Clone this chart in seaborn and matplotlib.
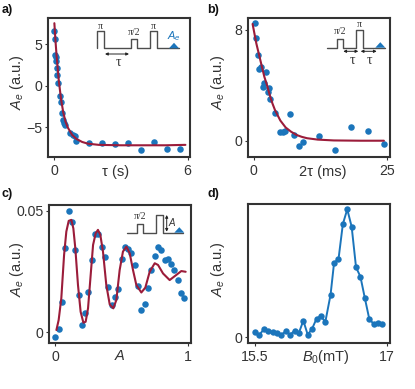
import matplotlib
matplotlib.use('Agg')
import matplotlib.pyplot as plt
import seaborn as sns

# panel a
a_x = [0, 0.02, 0.05, 0.08, 0.09, 0.10, 0.12, 0.18, 0.24, 0.30, 0.36, 0.40, 0.45, 0.50, 0.70, 0.82, 0.91, 0.97,
       1.56, 2.14, 2.73, 3.31, 3.90, 4.48, 5.07, 5.65]
a_y = [6.6, 5.56, 3.68, 3.48, 2.92, 2.08, 1.32, 0.32, -1.28, -1.96, -3.28, -4.12, -4.44, -4.72, -5.64, -5.92, -6.0, -6.68,
       -6.84, -6.92, -7.04, -6.92, -7.76, -6.72, -7.6, -7.6]
a_fit_x = [0, 0.05, 0.1, 0.2, 0.3, 0.4, 0.5, 0.6, 0.8, 1.0, 1.25, 1.5, 2, 3, 4, 5, 5.9]
a_fit_y = [7.5, 5.4, 3.6, 0.6, -1.6, -3.2, -4.3, -5.0, -5.9, -6.4, -6.75, -6.95, -7.1, -7.15, -7.15, -7.15, -7.1]

# panel b
b_x = [0.19, 0.5, 0.75, 1.06, 1.44, 2.31, 1.69, 2.0, 2.88, 2.63, 3.06, 4.0, 4.88, 5.44, 5.88, 6.75, 7.63, 8.56, 9.19,
       12.19, 15.25, 18.31, 21.38, 24.44]
b_y = [8.44, 7.4, 6.15, 5.16, 5.31, 4.93, 3.9, 4.13, 3.77, 3.48, 3.0, 2.02, 0.63, 0.65, 0.72, 1.95, 0.38, -0.38, -0.1,
       0.31, -0.65, 0.99, 0.7, -0.24]
b_fit_x = [-0.2, 0.5, 1, 1.5, 2, 2.5, 3, 3.5, 4, 5, 6, 7, 8, 9, 10, 12, 15, 20, 24.4]
b_fit_y = [8.4, 7.0, 6.2, 5.4, 4.6, 4.0, 3.3, 2.7, 2.2, 1.45, 0.95, 0.65, 0.42, 0.28, 0.18, 0.08, 0.02, 0, 0]

# panel c
c_x = [0, 0.025, 0.05, 0.075, 0.1, 0.125, 0.15, 0.175, 0.2, 0.225, 0.25, 0.275, 0.3, 0.325, 0.35, 0.375, 0.4, 0.425,
       0.45, 0.475, 0.5, 0.525, 0.55, 0.575, 0.6, 0.625, 0.65, 0.675, 0.7, 0.725, 0.75, 0.775, 0.8, 0.825, 0.85, 0.875,
       0.9, 0.925, 0.95, 0.975]
c_y = [-0.0018, 0.0015, 0.0123, 0.0345, 0.05, 0.0452, 0.034, 0.0153, 0.0032, 0.0081, 0.0168, 0.0299, 0.0404, 0.0404,
       0.0351, 0.0308, 0.0186, 0.0114, 0.0147, 0.0177, 0.0301, 0.0349, 0.0342, 0.0325, 0.0277, 0.0189, 0.0093, 0.0115,
       0.0181, 0.0258, 0.0314, 0.0352, 0.0337, 0.0296, 0.0301, 0.0281, 0.0255, 0.0215, 0.0163, 0.0142]
c_fit_x = [0.008, 0.025, 0.045, 0.066, 0.083, 0.101, 0.121, 0.136, 0.151, 0.171, 0.191, 0.212, 0.229, 0.247, 0.267,
           0.285, 0.305, 0.322, 0.34, 0.36, 0.385, 0.411, 0.438, 0.461, 0.486, 0.511, 0.537, 0.562, 0.587, 0.612,
           0.65, 0.68, 0.713, 0.751, 0.776, 0.814, 0.864, 0.914, 0.952, 0.985]
c_fit_y = [0.001, 0.0051, 0.014, 0.0318, 0.0414, 0.0458, 0.0462, 0.0427, 0.0345, 0.0195, 0.0085, 0.004, 0.0044, 0.0099,
           0.0236, 0.0359, 0.0407, 0.0421, 0.04, 0.0332, 0.0195, 0.0115, 0.0099, 0.0133, 0.0256, 0.0332, 0.0352, 0.0325,
           0.0256, 0.0195, 0.0164, 0.0184, 0.0249, 0.0284, 0.0277, 0.0242, 0.0215, 0.0236, 0.0252, 0.0249]

# panel d
d_x = [15.5, 15.55, 15.6, 15.65, 15.7, 15.75, 15.8, 15.85, 15.9, 15.95, 16.0, 16.05, 16.1, 16.15, 16.2, 16.25, 16.3,
       16.36, 16.4, 16.45, 16.5, 16.55, 16.6, 16.65, 16.7, 16.75, 16.8, 16.85, 16.9, 16.95]
d_y = [0.04, 0.02, 0.06, 0.05, 0.04, 0.03, 0.02, 0.045, 0.02, 0.05, 0.035, 0.125, 0.02, 0.065, 0.14, 0.16, 0.115,
       0.32, 0.56, 0.585, 0.85, 0.96, 0.83, 0.525, 0.455, 0.295, 0.14, 0.10, 0.107, 0.10]

BLUE = '#1b75bb'
RED = '#9b1c3a'
DARK = '#333333'
GREY = '#4d4d4d'

sns.set_theme(style='ticks')
plt.rcParams['font.family'] = ['Liberation Sans', 'DejaVu Sans']
plt.rcParams['mathtext.fontset'] = 'custom'
plt.rcParams['mathtext.rm'] = 'Liberation Sans'
plt.rcParams['mathtext.it'] = 'Liberation Sans:italic'
plt.rcParams['mathtext.bf'] = 'Liberation Sans:bold'

W, H = 415, 389
fig = plt.figure(figsize=(W / 100, H / 100), dpi=100)


def make_axes(left, top, right, bottom):
    ax = fig.add_axes([left / W, 1 - bottom / H, (right - left) / W, (bottom - top) / H])
    for s in ax.spines.values():
        s.set_linewidth(1.5)
        s.set_color(DARK)
    ax.tick_params(labelsize=10.2, length=2, width=0.8, colors=DARK)
    ax.tick_params(axis='x', pad=3.5)
    ax.tick_params(axis='y', pad=2)
    return ax


def dots(ax, x, y):
    sns.scatterplot(x=x, y=y, ax=ax, color=BLUE, s=22, linewidth=0, zorder=2)


def fit(ax, x, y):
    sns.lineplot(x=x, y=y, ax=ax, color=RED, lw=1.5, sort=False, estimator=None, zorder=3)


ax_a = make_axes(47.7, 17.7, 190.3, 156.7)
dots(ax_a, a_x, a_y)
fit(ax_a, a_fit_x, a_fit_y)
ax_a.set_xlim(-0.3, 6.12)
ax_a.set_ylim(-8.52, 8.16)
ax_a.set_xticks([0, 6])
ax_a.set_yticks([-5, 0, 5])

ax_b = make_axes(248, 17.7, 390.3, 156.7)
dots(ax_b, b_x, b_y)
fit(ax_b, b_fit_x, b_fit_y)
ax_b.set_xlim(-1.06, 25.6)
ax_b.set_ylim(-1.15, 8.85)
ax_b.set_xticks([0, 25])
ax_b.set_yticks([0, 8])

ax_c = make_axes(49, 205, 190.7, 342.7)
dots(ax_c, c_x, c_y)
fit(ax_c, c_fit_x, c_fit_y)
ax_c.set_xlim(-0.048, 1.023)
ax_c.set_ylim(-0.0042, 0.0523)
ax_c.set_xticks([0, 1])
ax_c.set_yticks([0, 0.05])
ax_c.set_yticklabels(['0', '0.05'])

ax_d = make_axes(248, 204, 390.3, 342.7)
sns.lineplot(x=d_x, y=d_y, ax=ax_d, color=BLUE, lw=1.4, marker='o', markersize=4.6,
             markeredgewidth=0, sort=False, estimator=None)
ax_d.set_xlim(15.42, 17.04)
ax_d.set_ylim(-0.04, 1.0)
ax_d.set_xticks([15.5, 17])
ax_d.set_xticklabels(['15.5', '17'])
ax_d.set_yticks([0])

# overlay in pixels for the pulse sketches and labels
ov = fig.add_axes([0, 0, 1, 1], facecolor='none')
ov.set_xlim(0, W)
ov.set_ylim(H, 0)
ov.axis('off')


def label(x, y, s, size=10.5, **kw):
    kw.setdefault('color', DARK)
    ov.text(x, y, s, fontsize=size, ha='center', va='center', **kw)


def pulse(xs, ys, arrows, peak):
    ov.plot(xs, ys, color=GREY, lw=1)
    ov.fill([peak - 5, peak, peak + 5], [ys[-1], ys[-1] - 5.5, ys[-1]], color=BLUE, lw=0, zorder=3)
    for x0, y0, x1, y1 in arrows:
        ov.annotate('', xy=(x1, y1), xytext=(x0, y0),
                    arrowprops=dict(arrowstyle='<|-|>', color='#222222', lw=0.7, mutation_scale=4, shrinkA=0, shrinkB=0))


pa_x = [97.3, 97.3, 103.7, 103.7, 130.7, 130.7, 137, 137, 150.3, 150.3, 156.7, 156.7, 179.3]
pa_y = [48.3, 30.7, 30.7, 48.3, 48.3, 39.3, 39.3, 48.3, 48.3, 30.7, 30.7, 48.3, 48.3]
pulse(pa_x, pa_y, [(105, 54, 129, 54)], 174)
pb_x = [327.3, 336.7, 336.7, 343.3, 343.3, 356, 356, 362.7, 362.7, 385]
pb_y = [47.7, 47.7, 39, 39, 47.7, 47.7, 30, 30, 47.7, 47.7]
pulse(pb_x, pb_y, [(343.3, 51.3, 358.3, 51.3), (360.7, 51.3, 376.7, 51.3)], 380.3)
pc_x = [126.7, 136.7, 136.7, 143.3, 143.3, 156, 156, 162.7, 162.7, 183.3]
pc_y = [232.7, 232.7, 223.7, 223.7, 232.7, 232.7, 214.7, 214.7, 232.7, 232.7]
pulse(pc_x, pc_y, [(166.7, 215, 166.7, 231.7)], 179.3)

serif = 'Liberation Serif'
label(100.7, 26, 'π', 7, family=serif)
label(134, 32.3, 'π/2', 7, family=serif)
label(153.3, 26, 'π', 7, family=serif)
label(173.5, 35.7, '$A_e$', 8, color=BLUE)
label(118.3, 62.7, 'τ', 10, family=serif)
label(340, 31.7, 'π/2', 7, family=serif)
label(359.7, 24, 'π', 7, family=serif)
label(352.3, 60, 'τ', 10, family=serif)
label(369, 60, 'τ', 10, family=serif)
label(140, 216, 'π/2', 7, family=serif)
label(172, 222.3, '$A$', 7)

label(16.5, 82, '$A_e$ (a.u.)', rotation=90)
label(218, 82, '$A_e$ (a.u.)', rotation=90)
label(16.5, 269, '$A_e$ (a.u.)', rotation=90)
label(217.5, 269, '$A_e$ (a.u.)', rotation=90)
label(116, 171.5, 'τ (s)')
label(323, 171.5, '2τ (ms)')
label(120, 356.5, '$A$')
label(326, 357.5, '$B_0$(mT)')

label(7, 10, 'a)', 9, fontweight='bold', color='#111111')
label(213, 10, 'b)', 9, fontweight='bold', color='#111111')
label(7, 193.5, 'c)', 9, fontweight='bold', color='#111111')
label(213, 193.5, 'd)', 9, fontweight='bold', color='#111111')

fig.savefig('out.png', dpi=100)
